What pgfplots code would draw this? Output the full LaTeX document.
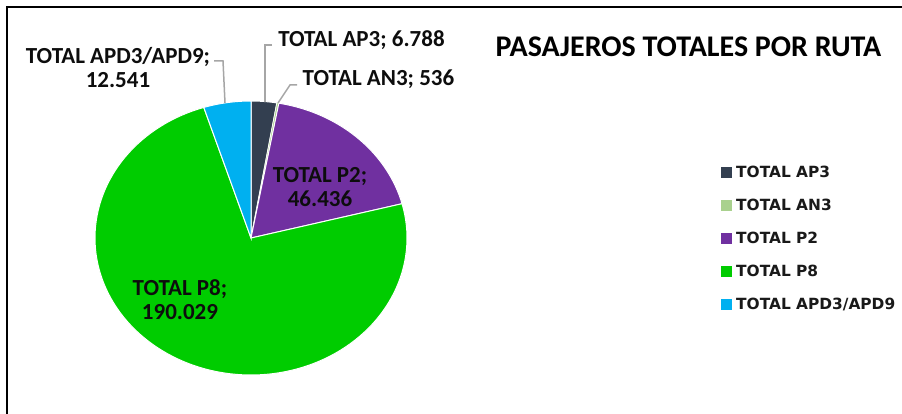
\documentclass[border=0pt]{standalone}
\usepackage{pgfplots}
\pgfplotsset{compat=1.18}
\usepackage{pgfplotstable}
\usepackage{fontspec}
\setmainfont{Carlito}
\newfontfamily\legfont{DejaVu Sans}

\definecolor{cAP}{HTML}{333F50}
\definecolor{cAN}{HTML}{A9D18E}
\definecolor{cPdos}{HTML}{7030A0}
\definecolor{cPocho}{HTML}{00CC00}
\definecolor{cAPD}{HTML}{00B0F0}
\definecolor{leader}{HTML}{A6A6A6}

% pasajeros por ruta
\pgfplotstableread{
ruta val
AP3 6788
AN3 536
P2 46436
P8 190029
APD 12541
}\data

\begin{document}
\begin{tikzpicture}
\pgfplotstablegetelem{0}{val}\of\data \let\vA\pgfplotsretval
\pgfplotstablegetelem{1}{val}\of\data \let\vB\pgfplotsretval
\pgfplotstablegetelem{2}{val}\of\data \let\vC\pgfplotsretval
\pgfplotstablegetelem{3}{val}\of\data \let\vD\pgfplotsretval
\pgfplotstablegetelem{4}{val}\of\data \let\vE\pgfplotsretval
\edef\tot{\fpeval{\vA+\vB+\vC+\vD+\vE}}
% cumulative angles, clockwise from 12 o'clock
\edef\cA{\fpeval{round(360*\vA/\tot,4)}}
\edef\cB{\fpeval{round(360*(\vA+\vB)/\tot,4)}}
\edef\cC{\fpeval{round(360*(\vA+\vB+\vC)/\tot,4)}}
\edef\cD{\fpeval{round(360*(\vA+\vB+\vC+\vD)/\tot,4)}}
\begin{axis}[
  scale only axis, width=902pt, height=414pt,
  xmin=0, xmax=902, ymin=0, ymax=414, y dir=reverse,
  hide axis, clip=false,
  legend style={draw=none, fill=none, inner sep=0pt,
    at={(axis cs:721,164)}, anchor=north west,
    font=\fontsize{15.4}{18}\legfont\bfseries\selectfont,
    row sep=16pt, column sep=2pt, nodes={inner sep=2pt, text=black!90}},
  legend cell align=left,
  legend image code/.code={\fill[#1,draw=none] (0pt,-5.5pt) rectangle (11pt,5.5pt);},
]
\addplot[fill=cAP, draw=white, line width=1pt, domain=0:\cA, samples=8]
  ({251+156*sin(x)},{238-137*cos(x)}) -- (251,238) -- cycle;
\addplot[fill=cAN, draw=white, line width=0.6pt, domain=\cA:\cB, samples=3]
  ({251+156*sin(x)},{238-137*cos(x)}) -- (251,238) -- cycle;
\addplot[fill=cPdos, draw=white, line width=1pt, domain=\cB:\cC, samples=40]
  ({251+156*sin(x)},{238-137*cos(x)}) -- (251,238) -- cycle;
\addplot[fill=cPocho, draw=white, line width=1pt, domain=\cC:\cD, samples=120]
  ({251+156*sin(x)},{238-137*cos(x)}) -- (251,238) -- cycle;
\addplot[fill=cAPD, draw=white, line width=1pt, domain=\cD:360, samples=12]
  ({251+156*sin(x)},{238-137*cos(x)}) -- (251,238) -- cycle;
\legend{TOTAL AP3, TOTAL AN3, TOTAL P2, TOTAL P8, TOTAL APD3/APD9}

% leader lines
\draw[leader, line width=1.5pt] (272,45) -- (265,45) -- (265,102);
\draw[leader, line width=1.5pt] (297,85) -- (290,85) -- (278,103);
\draw[leader, line width=1.5pt] (214,61) -- (223,61) -- (225,103);

% data labels
\begin{scope}[every node/.style={font=\fontsize{23}{24}\selectfont\bfseries, text=black!95, inner sep=0pt, align=center}]
\node at (361.5,40) {TOTAL AP3; 6.788};
\node at (378.5,79) {TOTAL AN3; 536};
\node at (118,68) {TOTAL APD3/APD9;\\12.541};
\node at (320,187) {TOTAL P2;\\46.436};
\node at (180,300) {TOTAL P8;\\190.029};
\end{scope}
\node[font=\fontsize{30}{32}\selectfont\bfseries, inner sep=0pt] at (688.5,47) {PASAJEROS TOTALES POR RUTA};

% chart frame
\draw[black, line width=2pt] (7,414) -- (7,7) -- (902,7);
\end{axis}
\pgfresetboundingbox
\useasboundingbox (current axis.south west) rectangle (current axis.north east);
\end{tikzpicture}
\end{document}
